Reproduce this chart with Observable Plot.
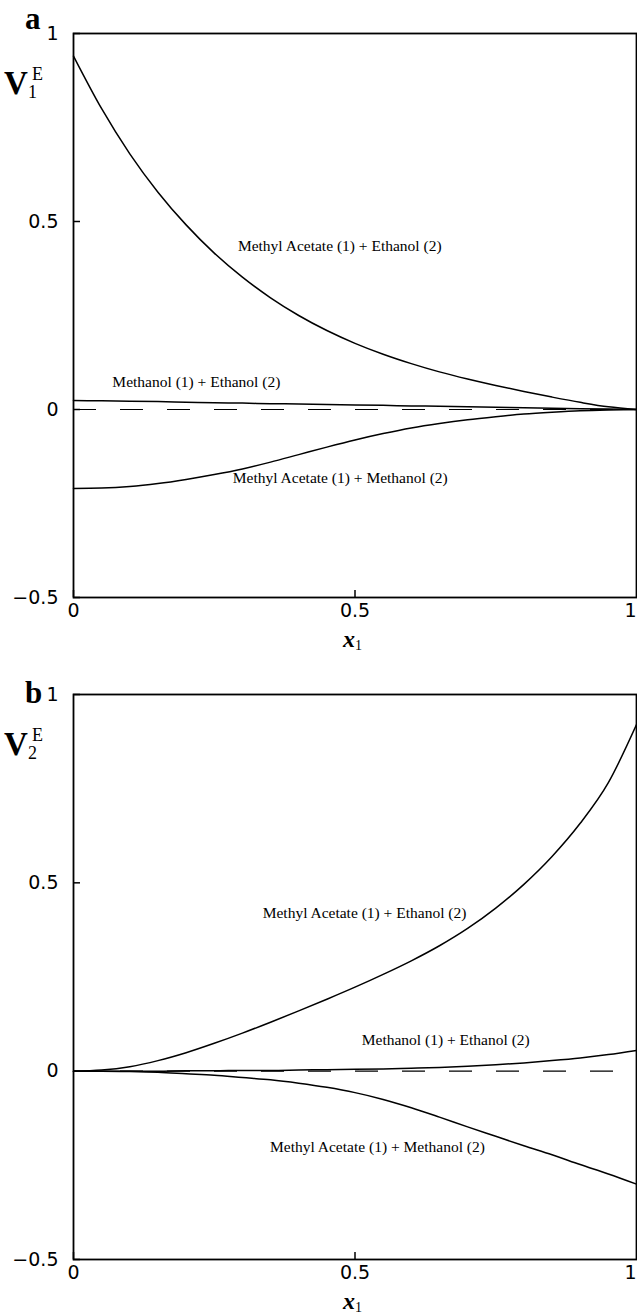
<!DOCTYPE html>
<html>
<head>
<meta charset="utf-8">
<script src="https://cdn.jsdelivr.net/npm/d3@7"></script>
<script src="https://cdn.jsdelivr.net/npm/@observablehq/plot@0.6"></script>
<style>
  body { margin: 0; background: #fff; }
  #chart { width: 637px; }
  #chart svg { display: block; }
</style>
</head>
<body>
<div id="chart"></div>
<script>
// ---- data ----
const xGrid = [0, 0.05, 0.1, 0.15, 0.2, 0.25, 0.3, 0.35, 0.4, 0.45, 0.5, 0.55, 0.6, 0.65, 0.7, 0.75, 0.8, 0.85, 0.9, 0.95, 1];
const seriesNames = ["Methyl Acetate (1) + Ethanol (2)", "Methanol (1) + Ethanol (2)", "Methyl Acetate (1) + Methanol (2)"];

// panel a : V1E
const aMAEthanol  = [0.94, 0.80, 0.68, 0.578, 0.491, 0.416, 0.352, 0.297, 0.25, 0.21, 0.176, 0.147, 0.122, 0.1, 0.081, 0.064, 0.048, 0.033, 0.019, 0.007, 0];
const aMeOHEthanol = [0.024, 0.023, 0.022, 0.021, 0.0195, 0.018, 0.017, 0.0155, 0.0145, 0.013, 0.012, 0.011, 0.0095, 0.0085, 0.007, 0.006, 0.0045, 0.0035, 0.002, 0.001, 0];
const aMAMethanol = [-0.21, -0.209, -0.205, -0.197, -0.186, -0.173, -0.158, -0.14, -0.12, -0.1, -0.081, -0.064, -0.049, -0.037, -0.027, -0.019, -0.012, -0.007, -0.003, -0.001, 0];
const aLabelX = [0.292, 0.069, 0.283];
const aLabelY = [0.436, 0.072, -0.183];

// panel b : V2E
const bMAEthanol  = [0, 0.003, 0.012, 0.028, 0.049, 0.074, 0.101, 0.13, 0.16, 0.191, 0.223, 0.257, 0.293, 0.333, 0.379, 0.433, 0.496, 0.57, 0.658, 0.766, 0.92];
const bMeOHEthanol = [0, 0, 0, 0, 0.001, 0.001, 0.002, 0.002, 0.003, 0.004, 0.005, 0.006, 0.008, 0.01, 0.013, 0.017, 0.022, 0.028, 0.035, 0.044, 0.055];
const bMAMethanol = [0, 0, -0.001, -0.003, -0.007, -0.011, -0.017, -0.023, -0.032, -0.043, -0.057, -0.075, -0.097, -0.122, -0.148, -0.173, -0.198, -0.222, -0.248, -0.273, -0.3];
const bLabelX = [0.336, 0.512, 0.349];
const bLabelY = [0.42, 0.082, -0.202];

const xTicks = [0, 0.5, 1];
const xTickLabels = ["0", "0.5", "1"];
const yTicks = [-0.5, 0, 0.5, 1];
const yTickLabels = ["\u22120.5", "0", "0.5", "1"];
const xDomain = [0, 1];
const yDomain = [-0.5, 1];
const zeroLine = [0];
const dashEnd = [0.96];

const xLabelMap = new Map(xTicks.map((t, i) => [t, xTickLabels[i]]));
const yLabelMap = new Map(yTicks.map((t, i) => [t, yTickLabels[i]]));

function makeRows(seriesArrays) {
  const rows = [];
  seriesArrays.forEach((arr, s) => arr.forEach((v, i) => rows.push({series: seriesNames[s], x: xGrid[i], y: v})));
  return rows;
}
function makeLabels(lx, ly) {
  return seriesNames.map((n, i) => ({text: n, x: lx[i], y: ly[i]}));
}

function panel(opts) {
  return Plot.plot({
    width: 637,
    height: opts.height,
    marginLeft: 73,
    marginRight: 1,
    marginTop: opts.marginTop,
    marginBottom: opts.marginBottom,
    x: {domain: xDomain},
    y: {domain: yDomain},
    style: {fontFamily: "'DejaVu Sans', sans-serif", fontSize: "19px", color: "black", background: "white"},
    marks: [
      Plot.ruleY(zeroLine, {x1: xDomain[0], x2: dashEnd[0], stroke: "black", strokeWidth: 1.2, strokeDasharray: "23,24"}),
      Plot.line(opts.rows, {x: "x", y: "y", z: "series", stroke: "black", strokeWidth: 1.5, curve: "monotone-x"}),
      Plot.text(opts.labels, {x: "x", y: "y", text: "text", textAnchor: "start", lineAnchor: "middle",
        fontFamily: "'Liberation Serif', 'Times New Roman', serif", fontSize: 15.5, fill: "black"}),
      Plot.frame({stroke: "black", strokeWidth: 1.8}),
      Plot.axisX(xTicks.slice(0, -1), {tickSize: -7, tickPadding: 13, tickFormat: d => xLabelMap.get(d), label: null, strokeWidth: 1.5}),
      Plot.axisX(xTicks.slice(-1), {tickSize: 0, tickPadding: 6, textAnchor: "end", tickFormat: d => xLabelMap.get(d), label: null}),
      Plot.axisY(yTicks, {tickSize: -7, tickPadding: 22, tickFormat: d => yLabelMap.get(d), label: null, strokeWidth: 1.5})
    ]
  });
}

function decorate(svg, letter, sub, frameTop, frameBottom, letterBaseline) {
  const s = d3.select(svg);
  const serif = "'Liberation Serif', 'Times New Roman', serif";
  const g = s.append("g").attr("text-anchor", "start").attr("fill", "black");
  g.append("text").attr("x", 25).attr("y", letterBaseline)
    .attr("font-family", serif).attr("font-weight", "bold").attr("font-size", 31)
    .text(letter);
  g.append("text").attr("x", 4).attr("y", frameTop + 61)
    .attr("font-family", serif).attr("font-weight", "bold").attr("font-size", 33)
    .text("V");
  g.append("text").attr("x", 32).attr("y", frameTop + 47)
    .attr("font-family", serif).attr("font-size", 18)
    .text("E");
  g.append("text").attr("x", 28).attr("y", frameTop + 65)
    .attr("font-family", serif).attr("font-size", 18)
    .text(sub);
  const xl = g.append("text").attr("x", 343).attr("y", frameBottom + 50)
    .attr("font-family", serif).attr("font-style", "italic").attr("font-weight", "bold")
    .attr("font-size", 24);
  xl.append("tspan").text("x");
  xl.append("tspan").attr("font-size", 14).attr("font-style", "normal").attr("font-weight", "normal").attr("dy", 3).text("1");
}

const chart = document.getElementById("chart");

const svgA = panel({
  height: 660, marginTop: 33, marginBottom: 63,
  rows: makeRows([aMAEthanol, aMeOHEthanol, aMAMethanol]),
  labels: makeLabels(aLabelX, aLabelY)
});
decorate(svgA, "a", "1", 33, 597, 29);
chart.appendChild(svgA);

const svgB = panel({
  height: 654, marginTop: 34, marginBottom: 55,
  rows: makeRows([bMAEthanol, bMeOHEthanol, bMAMethanol]),
  labels: makeLabels(bLabelX, bLabelY)
});
decorate(svgB, "b", "2", 34, 599, 43);
chart.appendChild(svgB);
</script>
</body>
</html>
